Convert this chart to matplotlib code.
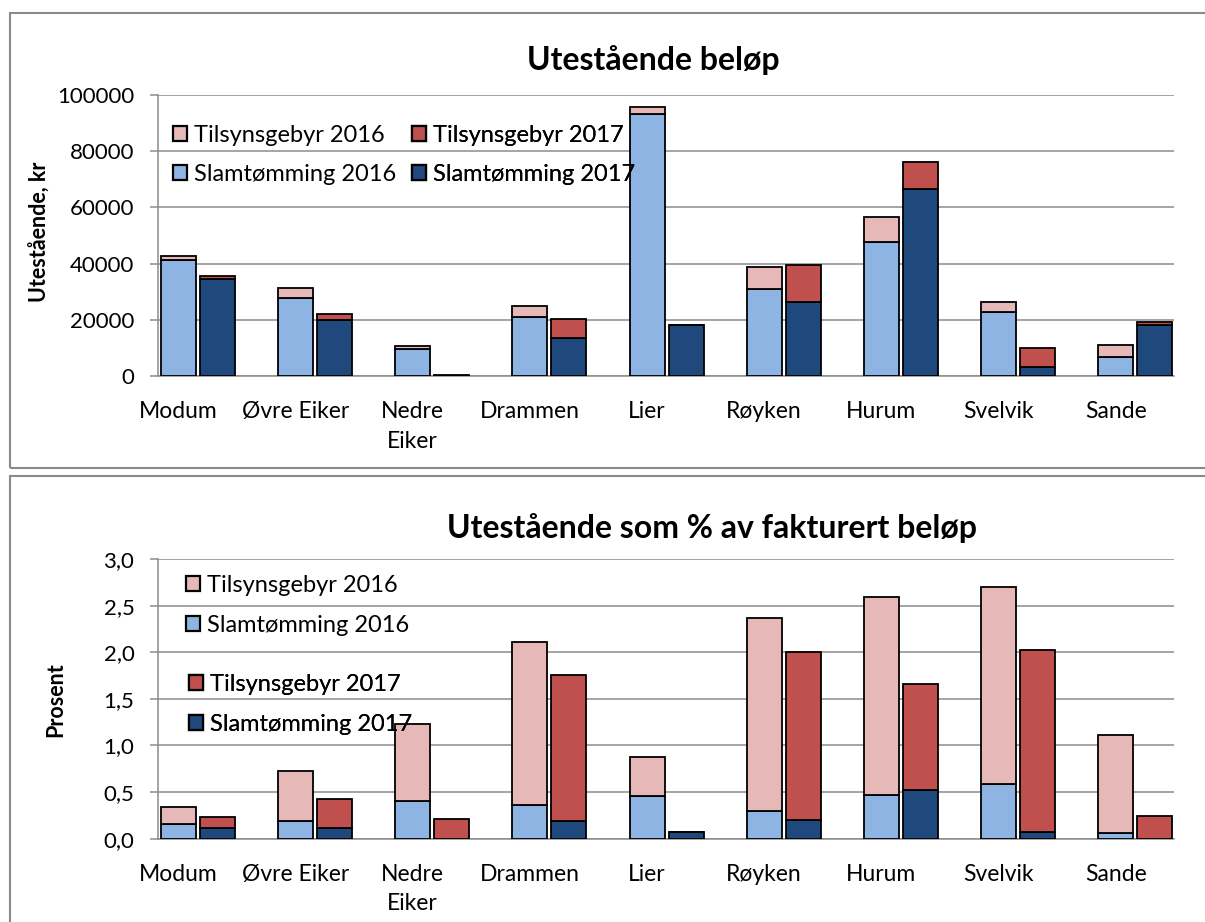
import matplotlib
matplotlib.use("Agg")
import matplotlib.pyplot as plt
import numpy as np
from matplotlib.patches import Patch, Rectangle

plt.rcParams['font.family'] = ['Lato', 'DejaVu Sans']

W, H = 1205, 922

kommuner = ['Modum', 'Øvre Eiker', 'Nedre\nEiker', 'Drammen', 'Lier',
            'Røyken', 'Hurum', 'Svelvik', 'Sande']

# utestående beløp, kr
slam16 = [41200, 27700, 9600, 21000, 93200, 31100, 47800, 22800, 6800]
tilsyn16 = [1600, 3600, 1100, 3900, 2500, 7600, 8900, 3700, 4100]
slam17 = [34500, 20000, 0, 13500, 18200, 26300, 66500, 3200, 18300]
tilsyn17 = [1000, 2000, 500, 6800, 0, 13300, 9500, 6600, 900]

# utestående som % av fakturert beløp
slam16_p = [0.157, 0.19, 0.407, 0.364, 0.457, 0.30, 0.468, 0.589, 0.061]
tilsyn16_p = [0.179, 0.538, 0.824, 1.742, 0.418, 2.063, 2.12, 2.106, 1.052]
slam17_p = [0.118, 0.118, 0.0, 0.193, 0.072, 0.203, 0.525, 0.072, 0.0]
tilsyn17_p = [0.114, 0.307, 0.207, 1.563, 0.0, 1.799, 1.131, 1.956, 0.246]

yticks_top = [0, 20000, 40000, 60000, 80000, 100000]
yticks_bot = [0.0, 0.5, 1.0, 1.5, 2.0, 2.5, 3.0]
ylabels_bot = ['0,0', '0,5', '1,0', '1,5', '2,0', '2,5', '3,0']

c_t16 = '#E6B9B8'
c_t17 = '#C0504D'
c_s16 = '#8EB4E3'
c_s17 = '#1F497D'
grid_c = '#8C8C8C'
FS_X = 16.5   # kategorinavn
FS_Y = 16     # y-tall
FS_L = 17     # legend

fig = plt.figure(figsize=(W / 100, H / 100), dpi=100)

# rammer rundt de to diagrammene
for top, bot in [(13, 468), (476, 960)]:
    fig.patches.append(Rectangle((10 / W, 1 - bot / H), 2, (bot - top) / H,
                                 transform=fig.transFigure, fill=False,
                                 edgecolor='#8A8A8A', lw=1.5))


def px_axes(left, top, right, bottom):
    return fig.add_axes([left / W, 1 - bottom / H, (right - left) / W, (bottom - top) / H])


def draw(ax, s16, t16, s17, t17, yticks, ylabels):
    x = np.arange(len(kommuner))
    off = 0.1664
    bw = 0.299
    kw = dict(width=bw, edgecolor='black', linewidth=1.3, zorder=3)
    ax.bar(x - off, s16, color=c_s16, **kw)
    ax.bar(x - off, t16, bottom=s16, color=c_t16, **kw)
    ax.bar(x + off, s17, color=c_s17, **kw)
    ax.bar(x + off, t17, bottom=s17, color=c_t17, **kw)
    ax.set_xlim(-0.339, 8.33)
    ax.set_ylim(yticks[0], yticks[-1])
    ax.set_yticks(yticks)
    ax.set_yticklabels(ylabels, fontsize=FS_Y)
    ax.set_xticks(x - off)
    ax.set_xticklabels(kommuner, fontsize=FS_X, linespacing=1.5, va='top')
    ax.tick_params(axis='x', length=0, pad=18)
    ax.tick_params(axis='y', length=6, width=1.1, color=grid_c, pad=11)
    ax.yaxis.grid(True, color=grid_c, lw=1.1)
    ax.set_axisbelow(True)
    for s in ['top', 'right']:
        ax.spines[s].set_visible(False)
    for s in ['left', 'bottom']:
        ax.spines[s].set_color(grid_c)
        ax.spines[s].set_linewidth(1.1)


def leg(ax, items, x, y, spacing):
    hs = [Patch(facecolor=c, edgecolor='black', lw=1.6, label=l) for c, l in items]
    lg = ax.legend(handles=hs, loc='upper left', bbox_to_anchor=(x / W, 1 - y / H),
                   bbox_transform=fig.transFigure, frameon=False, fontsize=FS_L,
                   handlelength=0.6, handleheight=0.6, handletextpad=0.3,
                   labelspacing=spacing, borderpad=0, borderaxespad=0)
    ax.add_artist(lg)


ax1 = px_axes(158, 95, 1174, 376)
draw(ax1, slam16, tilsyn16, slam17, tilsyn17, yticks_top, [str(v) for v in yticks_top])
leg(ax1, [(c_t16, 'Tilsynsgebyr 2016'), (c_s16, 'Slamtømming 2016')], 173, 125, 0.76)
leg(ax1, [(c_t17, 'Tilsynsgebyr 2017'), (c_s17, 'Slamtømming 2017')], 412, 125, 0.76)
fig.text(653 / W, 1 - 60 / H, 'Utestående beløp', ha='center', va='center',
         fontsize=23, fontweight='bold')
fig.text(40 / W, 1 - 232 / H, 'Utestående, kr', ha='center', va='center',
         rotation=90, fontsize=15.5, fontweight='bold')

ax2 = px_axes(158, 559, 1174, 838.7)
draw(ax2, slam16_p, tilsyn16_p, slam17_p, tilsyn17_p, yticks_bot, ylabels_bot)
leg(ax2, [(c_t16, 'Tilsynsgebyr 2016'), (c_s16, 'Slamtømming 2016')], 186, 575, 0.8)
leg(ax2, [(c_t17, 'Tilsynsgebyr 2017'), (c_s17, 'Slamtømming 2017')], 189, 674, 0.8)
fig.text(712 / W, 1 - 528 / H, 'Utestående som % av fakturert beløp', ha='center',
         va='center', fontsize=23, fontweight='bold')
fig.text(56 / W, 1 - 700 / H, 'Prosent', ha='center', va='center',
         rotation=90, fontsize=15.5, fontweight='bold')

fig.savefig('out.png', dpi=100)
